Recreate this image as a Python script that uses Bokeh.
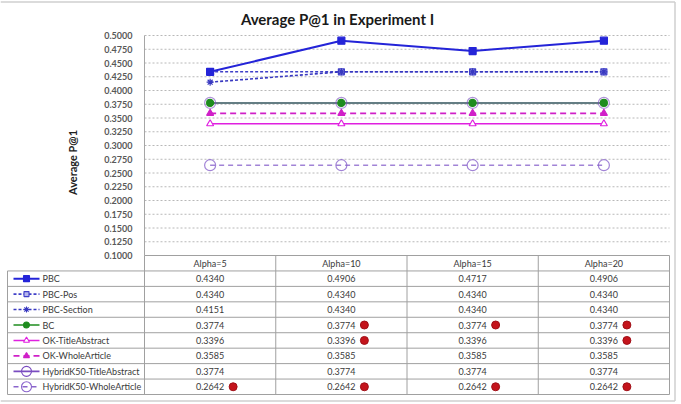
import math

from bokeh.plotting import figure
from bokeh.models import Range1d
from bokeh.embed import file_html
from bokeh.resources import INLINE
from bokeh.core.properties import value

# ---- data -------------------------------------------------------------
categories = ["Alpha=5", "Alpha=10", "Alpha=15", "Alpha=20"]

series_names = [
    "PBC", "PBC-Pos", "PBC-Section", "BC",
    "OK-TitleAbstract", "OK-WholeArticle",
    "HybridK50-TitleAbstract", "HybridK50-WholeArticle",
]

pbc = [0.4340, 0.4906, 0.4717, 0.4906]
pbc_pos = [0.4340, 0.4340, 0.4340, 0.4340]
pbc_section = [0.4151, 0.4340, 0.4340, 0.4340]
bc = [0.3774, 0.3774, 0.3774, 0.3774]
ok_title_abstract = [0.3396, 0.3396, 0.3396, 0.3396]
ok_whole_article = [0.3585, 0.3585, 0.3585, 0.3585]
hybrid_title_abstract = [0.3774, 0.3774, 0.3774, 0.3774]
hybrid_whole_article = [0.2642, 0.2642, 0.2642, 0.2642]

# table cells carrying a red marker dot (1 = marked)
pbc_flags = [0, 0, 0, 0]
pbc_pos_flags = [0, 0, 0, 0]
pbc_section_flags = [0, 0, 0, 0]
bc_flags = [0, 1, 1, 1]
ok_title_abstract_flags = [0, 1, 0, 1]
ok_whole_article_flags = [0, 0, 0, 0]
hybrid_title_abstract_flags = [0, 0, 0, 0]
hybrid_whole_article_flags = [1, 1, 1, 1]

y_ticks = [0.1000, 0.1250, 0.1500, 0.1750, 0.2000, 0.2250, 0.2500, 0.2750,
           0.3000, 0.3250, 0.3500, 0.3750, 0.4000, 0.4250, 0.4500, 0.4750, 0.5000]

title_text = "Average P@1 in Experiment I"
y_title = "Average P@1"

series_values = [pbc, pbc_pos, pbc_section, bc, ok_title_abstract,
                 ok_whole_article, hybrid_title_abstract, hybrid_whole_article]
series_flags = [pbc_flags, pbc_pos_flags, pbc_section_flags, bc_flags,
                ok_title_abstract_flags, ok_whole_article_flags,
                hybrid_title_abstract_flags, hybrid_whole_article_flags]

# ---- styles -----------------------------------------------------------
FONT = "Lato"
styles = [
    dict(color="#2424d8", dash="solid", width=2.0, marker="square", size=7, fill="#2424d8", alpha=1.0),
    dict(color="#4040c8", dash="3 2", width=1.6, marker="square", size=6, fill="#b8b8ec", alpha=1.0),
    dict(color="#3838c0", dash="3 2", width=1.6, marker="asterisk", size=7, fill="#3838c0", alpha=1.0),
    dict(color="#1e8c1e", dash="solid", width=1.6, marker="circle", size=7, fill="#1e8c1e", alpha=1.0),
    dict(color="#e020e0", dash="solid", width=1.6, marker="triangle", size=7, fill="white", alpha=1.0),
    dict(color="#d020c8", dash="6 4", width=1.6, marker="triangle", size=7, fill="#d020c8", alpha=1.0),
    dict(color="#7a4cc0", dash="solid", width=1.6, marker="circle", size=11, fill=None, alpha=0.6),
    dict(color="#8a64cc", dash="5 4", width=1.4, marker="circle", size=11, fill=None, alpha=0.8),
]

# ---- layout geometry (pixels) ----------------------------------------
W, H = 676, 402
PLOT_L, PLOT_R = 144, 669          # plot area / value columns
PLOT_T, PLOT_B = 35, 255           # value axis from 0.5 (top) to 0.1 (bottom)
TABLE_L, TABLE_B = 7, 394          # legend column left edge, table bottom
FRAME_T, FRAME_R, FRAME_B = 1.5, 674.5, 400.5   # light outer border
Y_LO, Y_HI = y_ticks[0], y_ticks[-1]

PX = (PLOT_R - PLOT_L) / len(categories)         # pixels per category
Y_PER_PX = (Y_HI - Y_LO) / (PLOT_B - PLOT_T)
n_rows = len(series_names) + 1                   # header + one row per series
ROW_PX = (TABLE_B - PLOT_B) / n_rows


def xpx(px):
    """x data coordinate at a horizontal pixel offset."""
    return -0.5 + (px - PLOT_L) / PX


def ypx(px):
    """value-axis data coordinate at a vertical pixel offset."""
    return Y_HI - (px - PLOT_T) * Y_PER_PX


p = figure(
    width=W, height=H,
    x_range=Range1d(xpx(0), xpx(W)),
    y_range=Range1d(ypx(H), ypx(0)),
    x_axis_type=None, y_axis_type=None,
    output_backend="svg", toolbar_location=None,
    min_border_left=0, min_border_right=0, min_border_top=0, min_border_bottom=0,
)
p.extra_y_ranges = {"rows": Range1d((H - PLOT_B) / ROW_PX, -PLOT_B / ROW_PX)}
p.xgrid.visible = False
p.ygrid.visible = False
p.outline_line_color = None
p.background_fill_color = "white"
p.border_fill_color = "white"

x_pos = list(range(len(categories)))
col_left, col_right = -0.5, len(categories) - 0.5
leg_left = xpx(TABLE_L)

# ---- outer border (top, right, bottom) --------------------------------
p.segment([xpx(0), xpx(FRAME_R), xpx(0)],
          [ypx(FRAME_T), ypx(FRAME_T), ypx(FRAME_B)],
          [xpx(FRAME_R), xpx(FRAME_R), xpx(FRAME_R)],
          [ypx(FRAME_T), ypx(FRAME_B), ypx(FRAME_B)],
          line_color="#cfcfcf", line_width=1.5)

# ---- title ------------------------------------------------------------
p.text([xpx(337)], [ypx(18)], text=[title_text], text_align="center",
       text_baseline="middle", text_font=value(FONT), text_font_size="15px",
       text_font_style="bold", text_color="#1a1a1a")

# ---- value axis: gridlines, axis line, tick labels, title -------------
grid_t = y_ticks[1:]
p.segment([col_left] * len(grid_t), grid_t, [col_right] * len(grid_t), grid_t,
          line_color="#b8b8b8", line_width=1, line_dash="2 2")
p.segment([col_left], [Y_LO], [col_left], [Y_HI], line_color="#a6a6a6", line_width=1)
p.text([xpx(132)] * len(y_ticks), y_ticks, text=[f"{t:.4f}" for t in y_ticks],
       text_align="right", text_baseline="middle", text_font=value(FONT),
       text_font_size="9px", text_font_style="bold", text_color="#595959")
p.text([xpx(72)], [ypx(162)], text=[y_title], angle=math.pi / 2,
       text_align="center", text_baseline="middle", text_font=value(FONT),
       text_font_size="11px", text_font_style="bold", text_color="#222222")

# ---- series lines and markers -----------------------------------------
for vals, st in zip(series_values, styles):
    p.line(x_pos, vals, line_color=st["color"], line_width=st["width"],
           line_dash=st["dash"], line_alpha=st["alpha"])
# markers: PBC last so its filled squares sit on top where values coincide
marker_order = list(range(1, len(series_values))) + [0]
for k in marker_order:
    vals, st = series_values[k], styles[k]
    p.scatter(x_pos, vals, marker=st["marker"], size=st["size"],
              fill_color=st["fill"], line_color=st["color"], line_width=1.2,
              line_alpha=st["alpha"])

# ---- data table -------------------------------------------------------
BORDER = "#a0a0a0"
hx0, hx1, hy = [col_left], [col_right], [0]
for r in range(1, n_rows + 1):
    hx0.append(leg_left)
    hx1.append(col_right)
    hy.append(r)
p.segment(hx0, hy, hx1, hy, line_color=BORDER, line_width=1, y_range_name="rows")

vx = [col_left + k for k in range(len(categories) + 1)] + [leg_left]
vy0 = [0] * (len(categories) + 1) + [1]
vy1 = [n_rows] * (len(categories) + 2)
p.segment(vx, vy0, vx, vy1, line_color=BORDER, line_width=1, y_range_name="rows")

text_kw = dict(text_font=value(FONT), text_font_size="9px", text_color="#3a3a3a",
               text_baseline="middle", y_range_name="rows")

# header row
p.text(x_pos, [0.5] * len(categories), text=categories, text_align="center", **text_kw)

# value rows and red marker dots
vx_, vy_, vt_ = [], [], []
dx_, dy_ = [], []
for i, (vals, flags) in enumerate(zip(series_values, series_flags)):
    for j, (v, f) in enumerate(zip(vals, flags)):
        vx_.append(x_pos[j])
        vy_.append(i + 1.5)
        vt_.append(f"{v:.4f}")
        if f:
            dx_.append(x_pos[j] + 23 / PX)
            dy_.append(i + 1.5)
p.text(vx_, vy_, text=vt_, text_align="center", **text_kw)
p.scatter(dx_, dy_, marker="circle", size=8, fill_color="#c4141c",
          line_color="#a01018", line_width=1, y_range_name="rows")

# legend column: line sample, marker and series name
for i, (name, st) in enumerate(zip(series_names, styles)):
    yc = i + 1.5
    p.line([xpx(13), xpx(39)], [yc, yc], line_color=st["color"], line_width=st["width"],
           line_dash=st["dash"], y_range_name="rows")
    p.scatter([xpx(26)], [yc], marker=st["marker"], size=st["size"] - 1,
              fill_color=st["fill"], line_color=st["color"], line_width=1.1,
              y_range_name="rows")
    p.text([xpx(42)], [yc], text=[name], text_align="left", **text_kw)

with open("out.html", "w") as f:
    f.write(file_html(p, INLINE))
